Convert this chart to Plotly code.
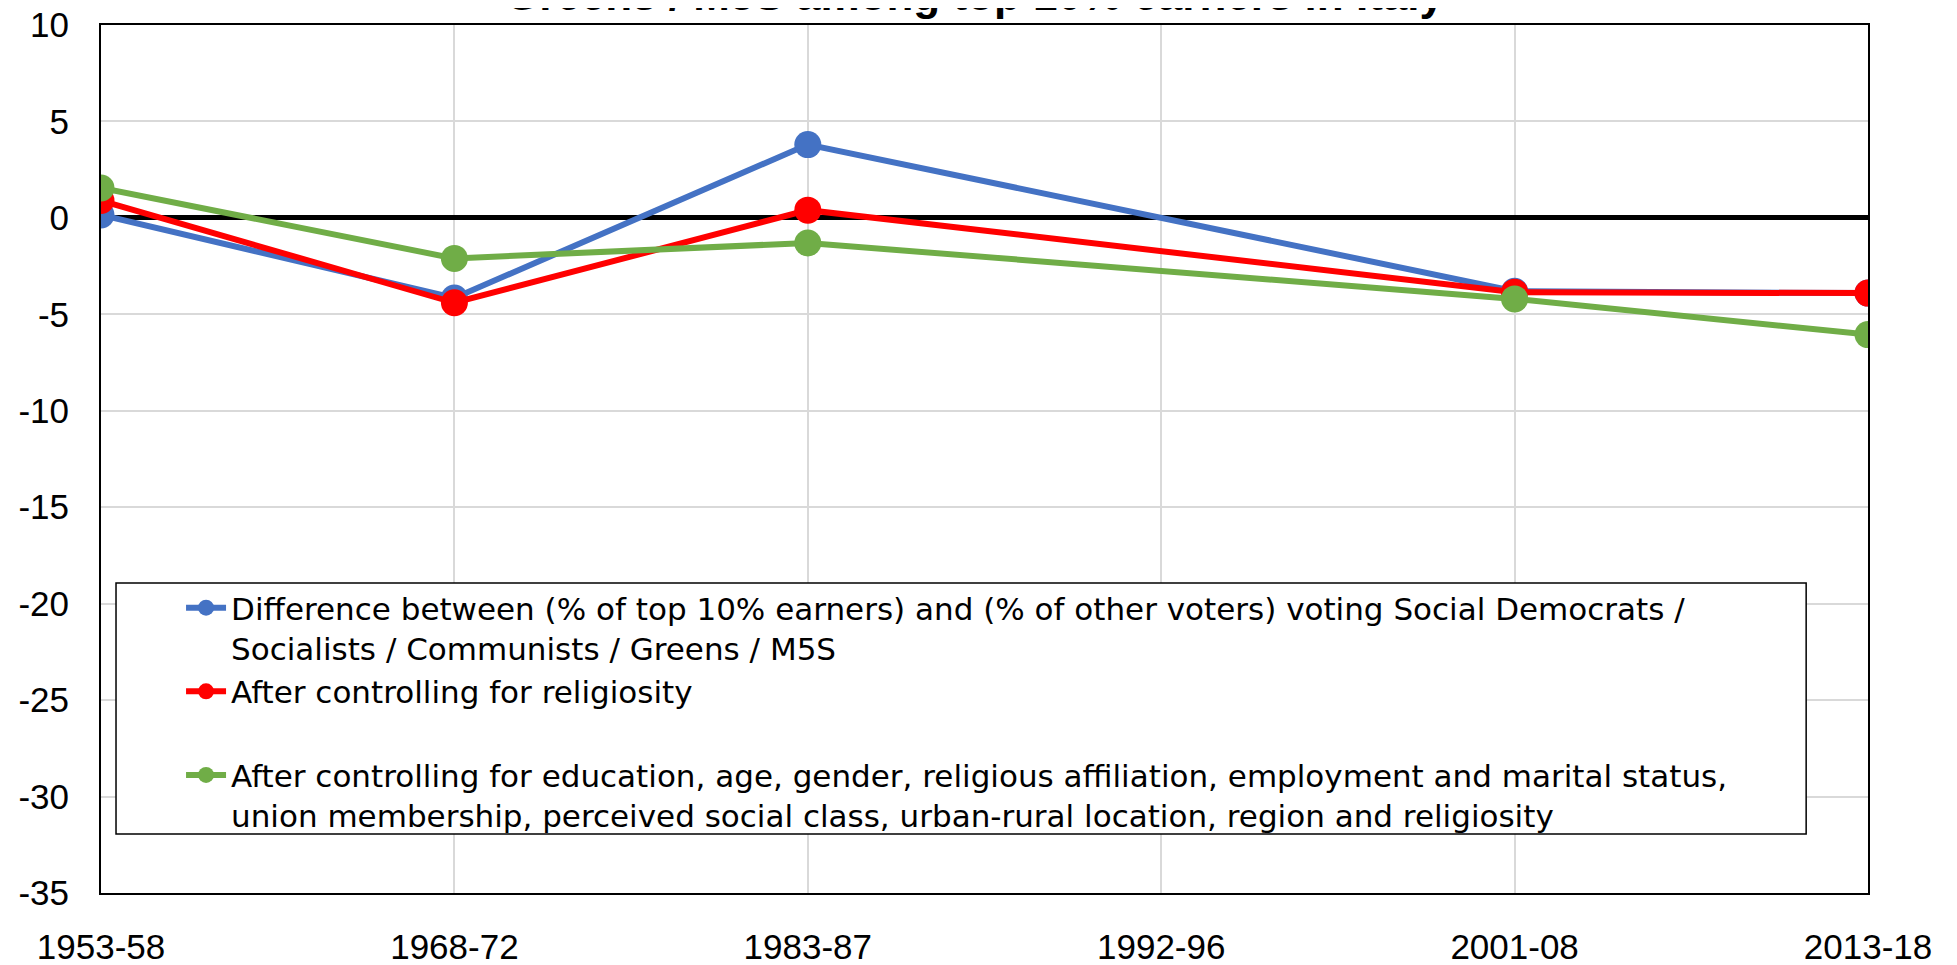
import plotly.graph_objects as go

periods = ['1953-58', '1968-72', '1983-87', '1992-96', '2001-08', '2013-18']
diff_top10 = [0.15, -4.15, 3.8, None, -3.8, -3.9]
ctrl_religiosity = [0.9, -4.4, 0.4, None, -3.85, -3.9]
ctrl_full = [1.55, -2.1, -1.3, None, -4.2, -6.05]

y_ticks = [10, 5, 0, -5, -10, -15, -20, -25, -30, -35]
y_ticktext = ['10', '5', '0', '-5', '-10', '-15', '-20', '-25', '-30', '-35']

names = [
    'Difference between (% of top 10% earners) and (% of other voters) voting Social Democrats /<br>Socialists / Communists / Greens / M5S',
    'After controlling for religiosity<br> ',
    'After controlling for education, age, gender, religious affiliation, employment and marital status,<br>union membership, perceived social class, urban-rural location, region and religiosity',
]
colors = ['#4472C4', '#FF0000', '#70AD47']

fig = go.Figure()
for vals, name, col in zip([diff_top10, ctrl_religiosity, ctrl_full], names, colors):
    fig.add_trace(go.Scatter(
        x=periods, y=vals, name=name, mode='lines+markers', connectgaps=True,
        line=dict(color=col, width=6),
        marker=dict(color=col, size=27)))

# legend frame (drawn as shape so it can span wider than the text)
fig.add_shape(type='rect', xref='paper', yref='paper',
              x0=0.0085, x1=0.965, y0=0.068, y1=0.357,
              line=dict(color='black', width=1.5), fillcolor='white', layer='above')

# title sits mostly above the visible page, as in the source image
fig.add_annotation(text='<b>Greens / M5S among top 10% earners in Italy</b>',
                   xref='paper', yref='paper', x=0.4946, y=1.0046,
                   xanchor='center', yanchor='bottom', showarrow=False,
                   font=dict(size=44))

# page is offset by the 8px body margin, so the figure is 8px smaller than the window
fig.update_layout(
    width=1949, height=957,
    margin=dict(l=93, r=89, t=17, b=72, autoexpand=False),
    plot_bgcolor='white', paper_bgcolor='white',
    font=dict(family='Liberation Sans, Arial', size=35, color='black'),
    showlegend=True,
    legend=dict(x=0.0453, y=0.3594, xanchor='left', yanchor='top',
                bgcolor='rgba(0,0,0,0)', borderwidth=0, valign='top',
                font=dict(family='DejaVu Sans', size=31), itemwidth=40, tracegroupgap=0),
)
fig.update_xaxes(type='category', range=[0, 5],
                 showgrid=True, gridcolor='#d9d9d9', gridwidth=1.5,
                 showline=True, linecolor='black', linewidth=2, mirror=True,
                 ticks='outside', ticklen=22, tickcolor='rgba(0,0,0,0)',
                 ticklabeloverflow='allow')
fig.update_yaxes(range=[-35, 10], tickvals=y_ticks, ticktext=y_ticktext,
                 showgrid=True, gridcolor='#d9d9d9', gridwidth=1.5,
                 zeroline=True, zerolinecolor='black', zerolinewidth=5,
                 showline=True, linecolor='black', linewidth=2, mirror=True,
                 ticks='outside', ticklen=23, tickcolor='rgba(0,0,0,0)',
                 ticklabeloverflow='allow')

fig.write_html('out.html')
